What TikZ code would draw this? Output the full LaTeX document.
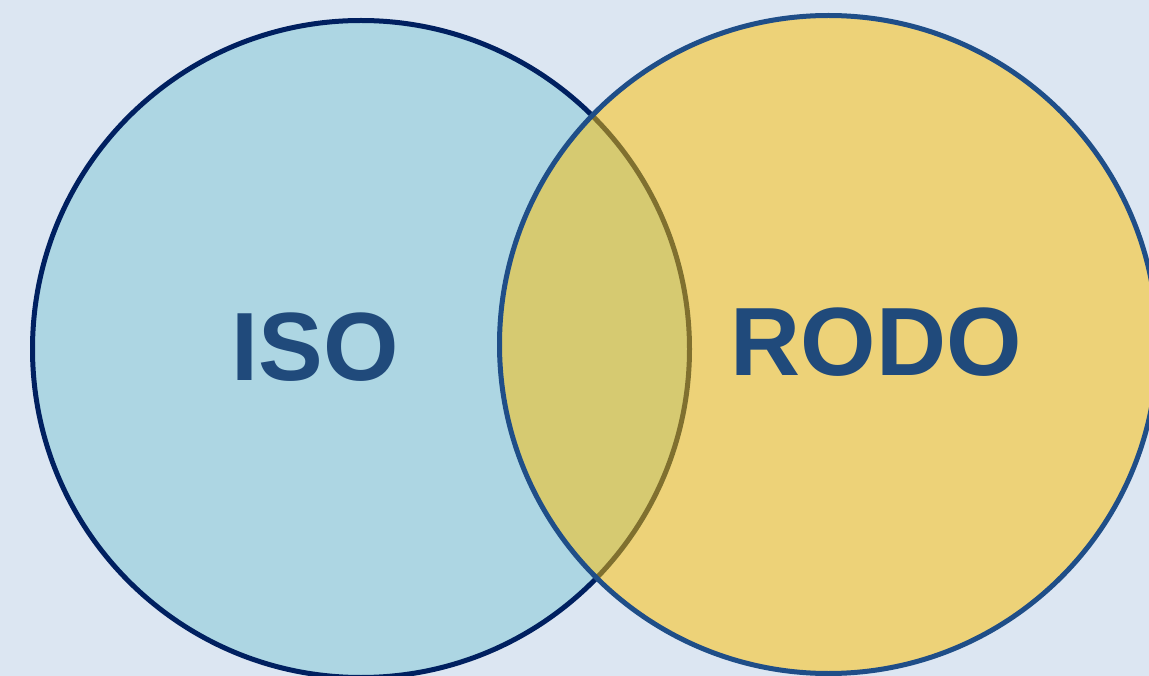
\documentclass[tikz,border=0pt]{standalone}
\usepackage{fontspec}
\setmainfont{Liberation Sans}
\definecolor{bgpane}{HTML}{DCE6F2}
\definecolor{isofill}{HTML}{ADD6E3}
\definecolor{isoline}{HTML}{002060}
\definecolor{rodofill}{HTML}{FFC000}
\definecolor{rodoline}{HTML}{1F4E88}
\definecolor{labeltext}{HTML}{204A7B}
\begin{document}
\begin{tikzpicture}[x=1pt,y=-1pt,
  setcircle/.style={circle,inner sep=0pt,outer sep=0pt,line width=5pt},
  setlabel/.style={inner sep=0pt,anchor=base,text=labeltext,
    font=\fontsize{97}{100}\selectfont\bfseries}]
  \useasboundingbox (0,0) rectangle (1149,676);
  \fill[bgpane] (0,0) rectangle (1149,676);
  % left set
  \node[setcircle,draw=isoline,fill=isofill,minimum size=657pt] (iso) at (361,349) {};
  \node[setlabel] (isotext) at (315,381) {ISO};
  % right set, translucent so the overlap blends
  \node[setcircle,draw=rodoline,fill=rodofill,fill opacity=0.5,draw opacity=1,minimum size=658pt] (rodo) at (828.5,344.5) {};
  \node[setlabel] (rodotext) at (876,375) {RODO};
\end{tikzpicture}
\end{document}
